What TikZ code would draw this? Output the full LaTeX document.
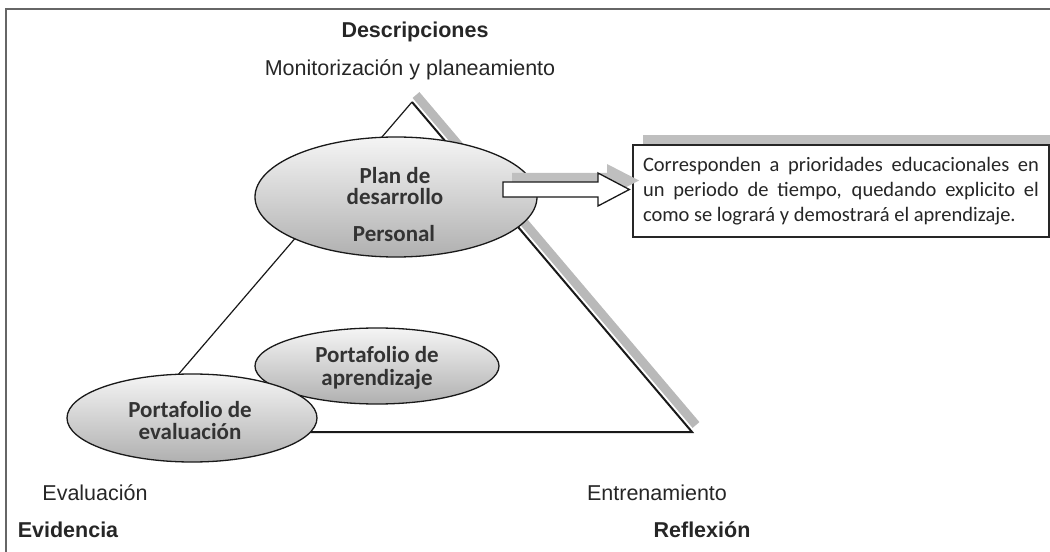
\documentclass[tikz,border=0pt]{standalone}
\usepackage{fontspec}
\setmainfont{Liberation Sans}
\newfontfamily\calfont{Carlito}
\usetikzlibrary{shapes.geometric}
\tikzset{
  lbl/.style={font=\fontsize{21.5bp}{24bp}\selectfont, text=black!85, inner sep=0},
  blbl/.style={lbl, font=\fontsize{21.5bp}{24bp}\selectfont\bfseries},
  oval/.style={ellipse, draw=black!90, line width=1.3bp, top color=gray!8, bottom color=gray!62, inner sep=0},
  ovaltext/.style={font=\calfont\bfseries\fontsize{23bp}{21bp}\selectfont, text=black!80, align=center, inner sep=0},
  shadowband/.style={draw=gray!55, line width=9bp},
  tri/.style={draw=black!90, line width=2bp},
  trithin/.style={draw=black!90, line width=1.2bp},
  infobox/.style={draw=black!85, line width=1.3bp, fill=white, minimum width=416bp, minimum height=92bp,
     text width=396bp, inner xsep=10bp, align=justify, font=\calfont\fontsize{20.5bp}{25bp}\selectfont, text=black!85},
  blockarrow/.style={draw=black!90, line width=1.3bp, fill=white},
  frame/.style={draw=black!60, line width=2bp}
}
\begin{document}
\begin{tikzpicture}[x=1bp,y=-1bp]
\useasboundingbox (0,0) rectangle (1050,552);
% frame
\coordinate (fl) at (6,552);
\coordinate (ftl) at (6,9);
\coordinate (fr) at (1050,9);
\draw[frame] (fl) -- (ftl) -- (fr);
% triangle corners
\coordinate (apex) at (412,102);
\coordinate (bl) at (129,432);
\coordinate (br) at (692,432);
% shadow of triangle right side
\coordinate (sh1) at (416,95);
\coordinate (sh2) at (696,425);
\draw[shadowband] (sh1) -- (sh2);
% triangle
\draw[trithin] (bl) -- (apex);
\draw[tri] (apex) -- (br) -- (bl);
% box shadow
\fill[gray!50] (643,135) rectangle (1060,228);
\node[infobox] (box) at (841,191) {Corresponden a prioridades educacionales en\linebreak un periodo de tiempo, quedando explicito el\linebreak como se logrará y demostrará el aprendizaje.};
% ellipses
\node[oval, minimum width=282bp, minimum height=120bp] (plan) at (396,197) {};
\node[ovaltext] (plant) at (395,186) {Plan de\\desarrollo};
\node[ovaltext] (pers) at (394,234) {Personal};
\node[oval, minimum width=244bp, minimum height=76bp] (apr) at (377,366) {};
\node[ovaltext] (aprt) at (377,368) {Portafolio de\\[2bp]aprendizaje};
\node[oval, minimum width=250bp, minimum height=88bp] (eva) at (192,418) {};
\node[ovaltext] (evat) at (190,421) {Portafolio de\\[1bp]evaluación};
% arrow shadow and arrow
\fill[gray!50] (512,173) -- (607,173) -- (607,164) -- (639,180.5) -- (607,197) -- (607,188) -- (512,188) -- cycle;
\draw[blockarrow] (503,182) -- (598,182) -- (598,173) -- ([xshift=-3bp,yshift=1.5bp]box.west) -- (598,206) -- (598,197) -- (503,197) -- cycle;
% labels
\node[blbl] (desc) at (415,32) {Descripciones};
\node[lbl] (mon) at (410,70) {Monitorización y planeamiento};
\node[lbl] (eval) at (95,493) {Evaluación};
\node[blbl] (evid) at (68,530) {Evidencia};
\node[lbl] (entr) at (657,493) {Entrenamiento};
\node[blbl] (refl) at (702,530) {Reflexión};
\end{tikzpicture}
\end{document}
